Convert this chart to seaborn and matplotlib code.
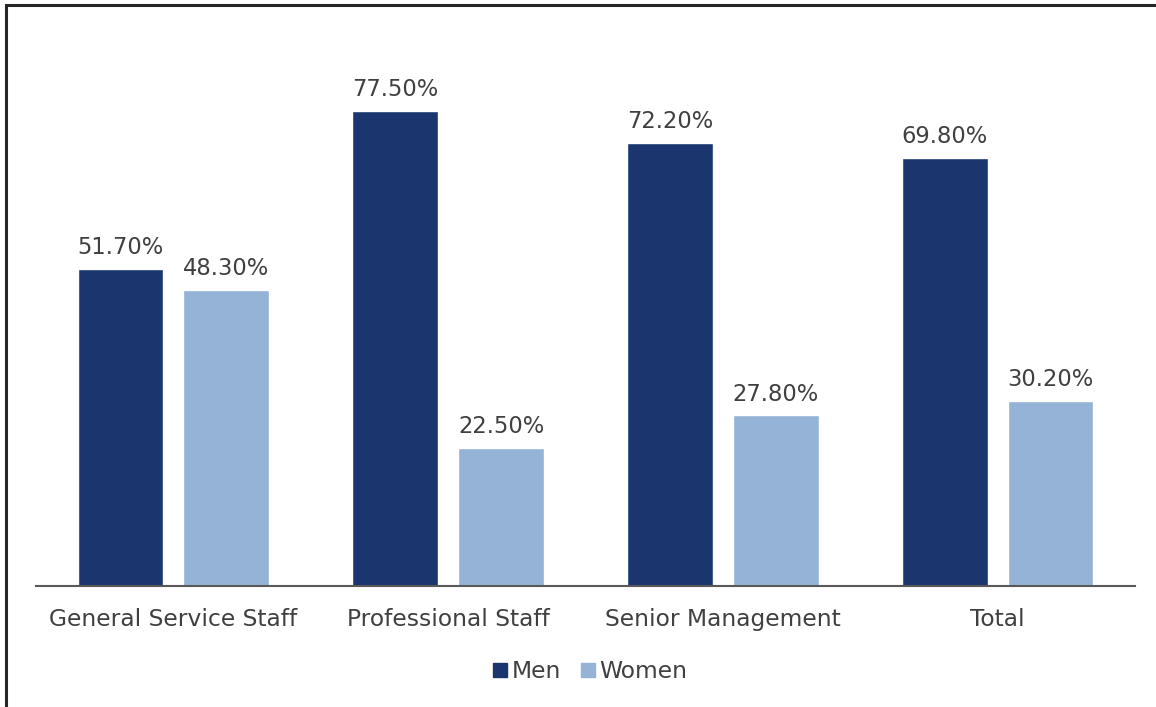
import matplotlib
matplotlib.use("Agg")
import matplotlib.pyplot as plt
import pandas as pd
import seaborn as sns
from matplotlib.patches import Rectangle
from matplotlib.lines import Line2D

categories = ["General Service Staff", "Professional Staff", "Senior Management", "Total"]
men = [51.7, 77.5, 72.2, 69.8]
women = [48.3, 22.5, 27.8, 30.2]
series_names = ["Men", "Women"]
colors = ["#1B366F", "#95B3D7"]

df = pd.DataFrame({
    "category": categories * 2,
    "share": men + women,
    "sex": [series_names[0]] * len(categories) + [series_names[1]] * len(categories),
})

sns.set_theme(style="white")
plt.rcParams["font.family"] = ["DejaVu Sans"]
text_color = "#404040"

W, H = 1156, 707
fig = plt.figure(figsize=(W / 100, H / 100), dpi=100)
ax = fig.add_axes([36 / W, 1 - 586 / H, (1135 - 36) / W, (586 - 34) / H])

sns.barplot(data=df, x="category", y="share", hue="sex", hue_order=series_names,
            order=categories, palette=colors, width=0.77, gap=0.19,
            saturation=1, legend=False, ax=ax)

ax.set_ylim(0, 90)
ax.set_xlim(-0.5, len(categories) - 0.5)
ax.set_xlabel("")
ax.set_ylabel("")
ax.set_yticks([])
for side in ["top", "right", "left"]:
    ax.spines[side].set_visible(False)
ax.spines["bottom"].set_color("#595959")
ax.spines["bottom"].set_linewidth(1.5)
ax.tick_params(axis="x", length=0, pad=16, labelsize=16.8, labelcolor=text_color)

for container in ax.containers:
    ax.bar_label(container, labels=[f"{v:.2f}%" for v in container.datavalues],
                 padding=7, fontsize=16.3, color=text_color)

handles = [Line2D([], [], marker="s", linestyle="", markersize=9.5,
                  markerfacecolor=c, markeredgecolor=c) for c in colors]
fig.legend(handles, series_names, loc="center", bbox_to_anchor=(589 / W, 1 - 672 / H),
           ncol=2, frameon=False, fontsize=16.8, labelcolor=text_color,
           handletextpad=0.1, columnspacing=0.75, handlelength=0.8)

# Outer frame
fig.patches.append(Rectangle((6 / W, -0.05), 1.2, 1 - 5 / H + 0.05, transform=fig.transFigure,
                             fill=False, edgecolor="#262626", linewidth=2.2))

fig.savefig("out.png", dpi=100)
